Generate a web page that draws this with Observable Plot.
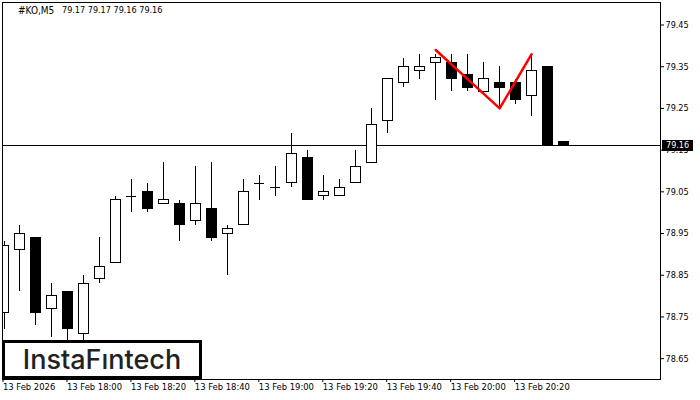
<!DOCTYPE html>
<html><head><meta charset="utf-8">
<script src="https://cdn.jsdelivr.net/npm/d3@7"></script>
<script src="https://cdn.jsdelivr.net/npm/@observablehq/plot@0.6"></script>
<style>
html,body{margin:0;padding:0;background:#fff;overflow:hidden}
#wrap{position:relative;width:700px;height:400px;font-family:"DejaVu Sans Condensed","DejaVu Sans",sans-serif}
svg{display:block}
.ov{position:absolute;white-space:pre;color:#000}
</style></head><body><div id="wrap"></div>
<script>
const times=["17:40","17:45","17:50","17:55","18:00","18:05","18:10","18:15","18:20","18:25","18:30","18:35","18:40","18:45","18:50","18:55","19:00","19:05","19:10","19:15","19:20","19:25","19:30","19:35","19:40","19:45","19:50","19:55","20:00","20:05","20:10","20:15","20:20","20:25","20:30","20:35"];
const opens =[78.76,78.91,78.94,78.77,78.81,78.71,78.84,78.88,79.04,79.05,79.02,79.02,78.98,79.01,78.95,78.97,79.07,79.06,79.07,79.13,79.04,79.04,79.07,79.12,79.22,79.31,79.34,79.36,79.36,79.33,79.29,79.31,79.31,79.28,79.35,79.17];
const highs =[78.93,78.97,78.94,78.83,78.81,78.85,78.94,79.04,79.08,79.07,79.12,79.03,79.11,79.12,78.97,79.08,79.09,79.11,79.19,79.15,79.09,79.08,79.15,79.25,79.32,79.37,79.38,79.38,79.38,79.38,79.36,79.35,79.32,79.38,79.35,79.17];
const lows  =[78.72,78.81,78.73,78.70,78.69,78.69,78.83,78.88,79.00,79.00,79.02,78.93,78.97,78.93,78.85,78.97,79.03,79.04,79.06,79.03,79.03,79.04,79.07,79.12,79.19,79.30,79.32,79.27,79.29,79.29,79.28,79.25,79.26,79.23,79.16,79.16];
const closes=[78.92,78.95,78.76,78.80,78.72,78.83,78.87,79.03,79.04,79.01,79.03,78.97,79.02,78.94,78.96,79.05,79.07,79.06,79.14,79.03,79.05,79.06,79.11,79.21,79.32,79.35,79.35,79.37,79.32,79.30,79.32,79.30,79.27,79.34,79.16,79.16];
const patternTimes=["19:55","20:15","20:25"];
const patternPrices=[79.39,79.25,79.38];
const bidPrice=79.16;
const priceTicks=[79.45,79.35,79.25,79.15,79.05,78.95,78.85,78.75,78.65];
const timeTicks=["17:40","18:00","18:20","18:40","19:00","19:20","19:40","20:00","20:20"];
const timeTickLabels=["13 Feb 2026","13 Feb 18:00","13 Feb 18:20","13 Feb 18:40","13 Feb 19:00","13 Feb 19:20","13 Feb 19:40","13 Feb 20:00","13 Feb 20:20"];
const headerSymbol="#KO,M5";
const headerValues="79.17 79.17 79.16 79.16";
const logoText="InstaF\u0131ntech";

const toDate=s=>new Date(`2026-02-13T${s}:00Z`);
const MIN=60000;
const candles=times.map((t,i)=>({t:toDate(t),o:opens[i],h:highs[i],l:lows[i],c:closes[i]}));
const halfBody=1.5625*MIN;
const pattern=patternTimes.map((t,i)=>({t:toDate(t),p:patternPrices[i]}));
const tickDates=timeTicks.map(toDate);
const font='"DejaVu Sans Condensed","DejaVu Sans",sans-serif';
const bodies=candles.filter(d=>d.o!==d.c);
const dojis=candles.filter(d=>d.o===d.c);

const chart=Plot.plot({
  width:700,height:400,
  marginLeft:2,marginRight:40,marginTop:2,marginBottom:21,
  style:{fontFamily:font,fontSize:"9px",color:"#000",background:"#fff"},
  x:{type:"utc",domain:[new Date(+toDate("17:40")-0.47*MIN),new Date(+toDate("17:40")+205.3*MIN)]},
  y:{domain:[78.60,79.504]},
  marks:[
    Plot.ruleY([bidPrice],{stroke:"#000",strokeWidth:1,shapeRendering:"crispEdges"}),
    Plot.ruleX(candles,{x:"t",y1:"l",y2:"h",stroke:"#000",strokeWidth:1,clip:"frame",shapeRendering:"crispEdges"}),
    Plot.rect(bodies,{
      x1:d=>new Date(+d.t-halfBody),x2:d=>new Date(+d.t+halfBody),
      y1:"o",y2:"c",
      fill:d=>d.c>=d.o?"#fff":"#000",stroke:"#000",strokeWidth:1,clip:"frame",shapeRendering:"crispEdges"}),
    Plot.ruleY(dojis,{y:"o",x1:d=>new Date(+d.t-halfBody),x2:d=>new Date(+d.t+halfBody),stroke:"#000",strokeWidth:1,shapeRendering:"crispEdges"}),
    Plot.line(pattern,{x:"t",y:"p",stroke:"#f00",strokeWidth:2.5,curve:"linear"}),
    Plot.frame({stroke:"#000",strokeWidth:1,shapeRendering:"crispEdges"}),
    Plot.axisY({anchor:"right",ticks:priceTicks,tickSize:3,tickPadding:2,tickFormat:d=>d.toFixed(2),label:null,stroke:"#000",textAnchor:"start",fill:"#000"}),
    Plot.axisX({anchor:"bottom",ticks:tickDates,tickSize:3,tickPadding:1,tickFormat:d=>timeTickLabels[tickDates.findIndex(t=>+t===+d)],label:null,textAnchor:"start",fill:"#000",stroke:"#000",fontSize:9.35,dx:-1})
  ]
});
const wrap=document.getElementById("wrap");
wrap.appendChild(chart);

const header=document.createElement("div");
header.className="ov";
header.style.cssText+="left:18px;top:4px;font-size:10px;line-height:13px";
const sym=document.createElement("span");sym.textContent=headerSymbol;
const vals=document.createElement("span");vals.textContent=headerValues;
vals.style.cssText="font-size:9px;position:absolute;left:44px;top:0";
header.append(sym,vals);
wrap.appendChild(header);

const yTag=chart.scale("y").apply(bidPrice);
const tag=document.createElement("div");
tag.className="ov";tag.textContent=bidPrice.toFixed(2);
tag.style.cssText+=`left:662px;top:${yTag-5}px;width:31px;height:11px;line-height:11px;background:#000;color:#fff;font-size:9px;padding-left:4px;box-sizing:border-box`;
wrap.appendChild(tag);

const logo=document.createElement("div");
logo.className="ov";logo.textContent=logoText;
logo.style.cssText+='left:2px;top:340px;width:200px;height:39px;box-sizing:border-box;border:3px solid #000;background:#fff;color:#222;font-family:Inter,sans-serif;font-weight:500;font-size:27px;line-height:34px;text-align:center';
wrap.appendChild(logo);
</script></body></html>
